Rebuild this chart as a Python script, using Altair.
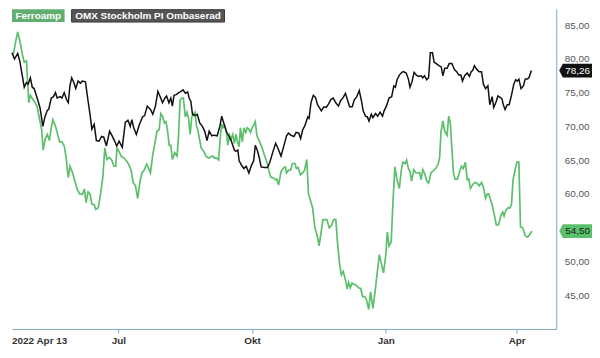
import altair as alt
import pandas as pd

START = pd.Timestamp("2022-04-13")

# OMX Stockholm PI (rebased) - days since 2022-04-13, value
omx_days = [5.9, 7.6, 9.8, 11.2, 14.3, 15.8, 17.0, 18.5, 19.8, 21.1, 23.6, 25.1, 27.1, 28.5, 30.2, 31.1, 32.9, 34.4, 35.8, 36.9,
            39.1, 40.2, 41.8, 43.5, 44.6, 45.7, 46.9, 48.4, 49.7, 51.3, 52.9, 54.2, 56.4, 57.9, 59.5, 60.8, 62.4, 63.9, 65.7, 67.5,
            69.0, 70.8, 73.0, 74.5, 76.3, 77.9, 79.5, 81.7, 83.8, 85.6, 87.2, 88.3, 89.6, 91.4, 93.4, 95.6, 97.1, 98.9, 101.1, 102.7,
            104.5, 106.2, 107.8, 109.4, 111.1, 112.2, 113.8, 115.1, 116.2, 117.3, 118.9, 120.4, 121.7, 123.5, 125.1, 126.7, 127.7, 128.9, 130.0, 131.5,
            133.3, 135.0, 136.8, 138.4, 140.0, 141.5, 143.3, 144.8, 147.0, 148.8, 150.1, 151.5, 153.3, 155.0, 156.6, 158.8, 159.9, 161.2, 162.1, 163.9,
            165.4, 167.0, 168.8, 170.5, 172.1, 173.2, 174.7, 175.9, 177.2, 179.4, 181.6, 183.2, 185.4, 187.2, 188.7, 190.9, 192.7, 194.7, 196.0, 197.5,
            199.8, 201.3, 203.1, 204.4, 205.8, 207.1, 208.2, 209.3, 210.2, 211.5, 213.1, 214.6, 216.0, 217.5, 218.6, 220.4, 222.0, 223.5, 225.3, 226.8,
            228.6, 230.4, 231.9, 233.7, 235.2, 236.8, 238.1, 239.9, 241.2, 243.0, 244.7, 246.3, 247.4, 249.0, 250.3, 251.4, 253.0, 254.1, 255.9, 257.4,
            259.0, 260.7, 261.8, 263.4, 265.2, 267.0, 268.5, 269.6, 270.7, 272.3, 274.0, 275.1, 277.0, 278.5, 279.6, 281.1, 282.4, 284.0, 285.6, 287.3,
            288.4, 289.6, 291.1, 292.4, 293.6, 295.1, 296.2, 297.7, 299.5, 301.1, 302.2, 303.5, 305.1, 306.6, 308.4, 310.2, 311.7, 313.2, 314.6, 315.7,
            317.2, 319.0, 320.5, 321.7, 322.8, 323.9, 325.7, 327.2, 328.8, 330.1, 331.6, 333.2, 334.5, 336.1, 337.2, 338.8, 340.1, 341.6, 342.8, 343.8,
            345.0, 346.5, 347.8, 349.4, 351.0, 352.3, 353.4, 354.5, 356.0, 357.6, 358.9, 360.5, 361.6, 363.1]
omx_vals = [80.9, 79.96, 80.8, 79.7, 75.8, 76.5, 76.25, 77.2, 75.8, 75.6, 73.9, 72.8, 70.0, 71.4, 72.4, 72.5, 74.2, 74.4, 75.0, 74.2,
            74.4, 74.2, 75.0, 73.9, 73.5, 76.0, 77.2, 76.5, 75.6, 76.7, 76.4, 76.7, 76.6, 74.2, 71.8, 69.6, 70.3, 67.9, 67.8, 68.5,
            68.4, 67.1, 69.3, 68.7, 67.9, 67.1, 67.8, 66.9, 70.6, 70.9, 70.0, 71.0, 69.8, 68.8, 70.2, 71.4, 71.6, 73.0, 72.5, 71.8,
            73.0, 75.2, 74.4, 73.5, 74.2, 74.5, 73.5, 74.2, 73.0, 74.6, 74.7, 75.0, 75.1, 75.4, 74.9, 75.1, 74.2, 73.7, 71.8, 71.6,
            71.8, 70.5, 70.0, 69.3, 67.9, 69.3, 68.6, 68.7, 68.6, 70.0, 71.5, 70.5, 69.2, 68.6, 67.9, 66.5, 66.3, 66.5, 64.9, 64.2,
            63.75, 64.1, 63.1, 64.2, 64.9, 67.2, 66.4, 65.4, 64.0, 63.9, 63.9, 64.7, 66.3, 67.5, 66.8, 65.6, 67.0, 68.6, 69.0, 68.7,
            68.5, 69.1, 69.0, 68.2, 69.5, 70.0, 70.7, 71.4, 71.2, 73.5, 74.6, 74.3, 73.2, 72.7, 72.3, 72.9, 72.8, 73.3, 74.0, 74.2,
            73.5, 73.0, 73.8, 74.3, 74.9, 73.8, 72.9, 72.9, 73.9, 74.4, 75.3, 73.7, 72.3, 71.5, 71.4, 70.8, 71.8, 71.3, 71.9, 71.5,
            72.1, 71.5, 72.3, 73.0, 74.2, 74.4, 76.0, 75.8, 76.9, 77.6, 78.0, 78.1, 77.9, 77.0, 75.8, 76.7, 78.0, 77.6, 77.4, 77.5,
            77.2, 77.5, 76.9, 77.2, 80.9, 80.9, 79.5, 79.3, 79.0, 78.8, 77.5, 78.6, 78.6, 79.3, 79.3, 78.4, 78.1, 77.6, 77.6, 76.7,
            77.5, 77.9, 77.4, 78.1, 78.3, 79.0, 78.4, 78.1, 78.1, 76.25, 75.6, 76.0, 73.2, 74.4, 72.8, 73.6, 74.5, 74.3, 74.1, 73.2,
            72.5, 73.2, 73.2, 74.6, 76.25, 76.9, 76.7, 77.0, 75.6, 76.0, 77.0, 77.0, 77.3, 78.26]

# Ferroamp - days since 2022-04-13, value
ferro_days = [5.9, 7.0, 8.5, 9.8, 11.4, 13.0, 14.3, 15.8, 17.4, 18.5, 19.6, 21.3, 23.1, 24.7, 26.3, 27.3, 28.7, 30.2, 31.6, 32.9,
              34.0, 35.8, 37.3, 38.6, 40.2, 41.8, 43.1, 44.0, 44.6, 45.7, 47.5, 49.1, 50.6, 52.4, 54.2, 55.7, 56.8, 58.2, 59.5, 60.8,
              62.4, 63.5, 65.2, 66.8, 68.4, 69.7, 71.2, 72.8, 74.5, 75.9, 77.2, 78.1, 79.7, 81.2, 83.0, 84.5, 86.1, 87.8, 89.2, 90.8,
              92.3, 93.8, 95.2, 96.7, 98.5, 99.6, 101.1, 102.7, 104.5, 105.6, 107.1, 108.2, 109.6, 110.7, 111.8, 112.9, 114.0, 115.1, 116.2, 117.8,
              119.4, 120.4, 121.5, 122.7, 123.7, 125.1, 126.2, 127.3, 128.4, 129.5, 130.6, 131.7, 132.8, 133.7, 134.6, 136.0, 137.7, 139.3, 141.0, 142.6,
              144.0, 145.3, 146.6, 148.0, 148.8, 150.0, 151.0, 152.1, 153.3, 154.3, 155.5, 156.6, 157.7, 158.8, 159.9, 161.0, 162.1, 163.0, 164.3, 165.4,
              166.6, 167.6, 168.8, 169.9, 171.0, 172.1, 173.2, 174.3, 175.9, 177.6, 179.4, 181.2, 182.5, 183.8, 185.4, 187.0, 188.0, 189.2, 190.9, 192.7,
              193.8, 194.7, 196.0, 197.5, 198.7, 200.5, 201.5, 202.7, 204.2, 205.8, 207.1, 208.6, 209.8, 211.3, 212.6, 214.2, 215.8, 217.1, 218.6, 219.7,
              221.3, 222.4, 224.1, 225.7, 227.1, 228.6, 229.7, 231.2, 232.4, 233.7, 235.2, 236.4, 237.4, 238.6, 239.7, 241.2, 242.5, 244.1, 245.7, 247.0,
              248.5, 249.7, 251.2, 252.5, 254.1, 255.7, 257.0, 258.5, 260.0, 261.4, 263.0, 264.0, 265.2, 266.7, 267.8, 269.2, 270.7, 272.3, 273.6, 274.7,
              276.3, 277.3, 278.5, 279.6, 280.7, 282.2, 283.6, 285.1, 286.2, 287.3, 288.4, 289.8, 291.1, 292.4, 294.0, 295.6, 297.3, 299.1, 300.0, 300.9,
              302.2, 303.5, 305.1, 306.2, 307.3, 308.4, 309.5, 310.6, 312.2, 313.5, 315.0, 316.2, 317.7, 319.0, 320.1, 321.2, 322.8, 324.3, 325.7, 327.2,
              328.8, 330.1, 331.6, 332.8, 333.8, 335.0, 336.1, 337.6, 339.0, 340.5, 342.1, 343.4, 344.3, 345.6, 347.2, 348.3, 349.4, 350.5, 352.1, 353.1,
              354.5, 355.6, 357.1, 358.9, 360.5, 362.0, 363.4]
ferro_vals = [80.65, 80.9, 82.7, 84.0, 82.5, 80.65, 79.5, 79.7, 73.5, 74.6, 74.2, 73.7, 73.0, 71.2, 69.5, 66.5, 68.15, 68.8, 67.9, 69.8,
              71.0, 70.0, 68.8, 67.7, 67.7, 67.1, 65.4, 63.5, 62.4, 64.1, 63.15, 61.9, 60.75, 60.0, 59.9, 60.75, 58.7, 60.3, 60.0, 58.5,
              58.4, 57.7, 57.95, 60.0, 62.6, 66.8, 65.1, 65.4, 65.0, 64.1, 64.1, 66.8, 66.2, 65.5, 65.3, 64.9, 64.4, 63.5, 61.7, 61.2,
              59.35, 61.7, 63.1, 63.5, 64.4, 63.9, 63.1, 65.8, 67.9, 69.3, 69.5, 71.9, 71.4, 70.5, 70.7, 69.3, 67.2, 67.2, 65.1, 66.1,
              65.6, 68.6, 73.9, 74.2, 74.2, 71.4, 72.1, 71.2, 68.8, 71.4, 71.8, 72.1, 70.0, 69.5, 68.4, 66.8, 66.3, 65.6, 65.3, 65.5,
              65.6, 65.3, 65.3, 65.0, 67.5, 70.4, 69.8, 70.2, 69.3, 67.2, 68.7, 68.15, 68.8, 67.5, 68.8, 67.7, 67.0, 69.8, 67.7, 69.8,
              69.1, 69.8, 69.6, 69.1, 69.8, 70.2, 70.7, 68.6, 67.9, 67.0, 65.8, 64.7, 63.5, 62.5, 62.4, 62.1, 62.2, 61.3, 63.3, 63.9,
              64.0, 63.1, 63.5, 63.5, 64.5, 64.5, 63.75, 63.9, 62.8, 63.1, 63.5, 65.1, 60.0, 58.9, 57.95, 55.0, 53.8, 52.3, 54.5, 56.2,
              56.2, 56.2, 55.0, 55.4, 56.2, 56.2, 52.9, 49.6, 48.0, 48.5, 47.3, 45.9, 46.9, 46.1, 46.8, 46.6, 46.5, 46.1, 46.0, 44.8,
              44.8, 44.3, 42.9, 45.5, 43.05, 45.7, 48.2, 51.0, 49.6, 48.3, 51.0, 54.35, 52.3, 52.9, 58.4, 64.0, 62.1, 60.8, 63.5, 64.7,
              64.5, 65.0, 63.75, 63.3, 61.9, 63.6, 63.15, 63.1, 63.15, 62.1, 63.6, 62.95, 61.9, 61.6, 63.1, 63.4, 63.75, 64.5, 65.4, 69.1,
              70.8, 69.3, 68.7, 71.5, 70.6, 66.8, 63.1, 62.2, 62.2, 63.1, 64.1, 63.75, 64.7, 62.1, 62.2, 60.8, 61.4, 61.7, 61.6, 61.2,
              61.7, 61.0, 59.35, 60.0, 60.0, 59.1, 58.4, 56.9, 55.4, 55.4, 56.8, 57.3, 56.7, 57.6, 57.95, 57.9, 58.4, 62.1, 63.75, 64.7,
              64.7, 55.1, 55.0, 53.8, 53.6, 54.0, 54.5]

series_names = ["Ferroamp", "OMX Stockholm PI Ombaserad"]
series_colors = ["#5cbf6c", "#111111"]
last_values = [54.50, 78.26]
last_labels = ["54,50", "78,26"]
badge_text_colors = ["#10240f", "#ffffff"]
legend_box_colors = ["#62ae70", "#555555"]

x_tick_dates = ["2022-07-01", "2022-10-01", "2023-01-01", "2023-04-01"]
y_ticks = [45, 50, 60, 65, 70, 75, 80, 85]
first_label = "2022 Apr 13"
x_domain_days = [5.85, 380.2]
y_domain = [40.0, 87.36]

W, H = 548, 322
FONT = "Liberation Sans"
AXIS_BLUE = "#7fa6c4"


def to_dates(days):
    return [START + pd.to_timedelta(d, unit="D") for d in days]


ferro_df = pd.DataFrame({"date": to_dates(ferro_days), "value": ferro_vals})
omx_df = pd.DataFrame({"date": to_dates(omx_days), "value": omx_vals})
x_domain = [alt.DateTime(year=t.year, month=t.month, date=t.day, hours=t.hour, minutes=t.minute)
            for t in to_dates(x_domain_days)]
x_values = [alt.DateTime(year=int(s[:4]), month=int(s[5:7]), date=int(s[8:10])) for s in x_tick_dates]

x_enc = alt.X(
    "date:T",
    scale=alt.Scale(domain=x_domain, nice=False),
    axis=alt.Axis(
        values=x_values,
        labelExpr="{'6':'Jul','9':'Okt','0':'Jan','3':'Apr'}[month(datum.value)]",
        title=None, grid=False, domainColor=AXIS_BLUE, tickColor=AXIS_BLUE, tickSize=4,
        labelFont=FONT, labelFontSize=10, labelFontWeight="bold", labelColor="#333333",
        labelPadding=3, labelFlush=False,
    ),
)
y_enc = alt.Y(
    "value:Q",
    scale=alt.Scale(domain=y_domain, nice=False, zero=False),
    axis=alt.Axis(
        orient="right", values=y_ticks,
        labelExpr="replace(format(datum.value, '.2f'), '.', ',')",
        title=None, grid=False, domainColor=AXIS_BLUE, ticks=False, labelPadding=8,
        labelFont=FONT, labelFontSize=10, labelColor="#555555",
    ),
)

ferro_line = alt.Chart(ferro_df).mark_line(color=series_colors[0], strokeWidth=1.7).encode(x=x_enc, y=y_enc)
omx_line = alt.Chart(omx_df).mark_line(color=series_colors[1], strokeWidth=1.5).encode(x="date:T", y="value:Q")

badge_df = pd.DataFrame({"value": last_values, "label": last_labels,
                         "fill": series_colors, "tc": badge_text_colors})
badge_path = "M -1 0 L -0.78 -0.42 L 1 -0.42 L 1 0.42 L -0.78 0.42 Z"
badges = alt.Chart(badge_df).mark_point(shape=badge_path, filled=True, size=1089, opacity=1, strokeWidth=0).encode(
    x=alt.value(W + 19.5), y="value:Q", color=alt.Color("fill:N", scale=None))
badge_text = alt.Chart(badge_df).mark_text(font=FONT, fontSize=10, align="center", baseline="middle", dx=2).encode(
    x=alt.value(W + 19.5), y="value:Q", text="label:N", color=alt.Color("tc:N", scale=None))

leg1 = alt.Chart(pd.DataFrame({"t": [series_names[0]]})).mark_rect(color=legend_box_colors[0]).encode(
    x=alt.value(0), x2=alt.value(53), y=alt.value(0), y2=alt.value(13))
leg1t = alt.Chart(pd.DataFrame({"t": [series_names[0]]})).mark_text(
    font=FONT, fontSize=10, fontWeight="bold", color="white", align="center", baseline="middle").encode(
    x=alt.value(26.5), y=alt.value(7), text="t:N")
leg2 = alt.Chart(pd.DataFrame({"t": [series_names[1]]})).mark_rect(color=legend_box_colors[1], stroke="#3a3a3a", strokeWidth=1).encode(
    x=alt.value(60), x2=alt.value(214), y=alt.value(0.5), y2=alt.value(13))
leg2t = alt.Chart(pd.DataFrame({"t": [series_names[1]]})).mark_text(
    font=FONT, fontSize=10, fontWeight="bold", color="white", align="center", baseline="middle").encode(
    x=alt.value(137), y=alt.value(7), text="t:N")

first_lbl = alt.Chart(pd.DataFrame({"t": [first_label]})).mark_text(
    font=FONT, fontSize=10, fontWeight="bold", color="#333333", align="left", baseline="top").encode(
    x=alt.value(0), y=alt.value(H + 7), text="t:N")

chart = alt.layer(
    ferro_line, omx_line, badges, badge_text, leg1, leg1t, leg2, leg2t, first_lbl
).properties(width=W, height=H, padding=0).configure_view(stroke=None)

chart.save("out.html", embed_options={"renderer": "svg", "actions": False})
